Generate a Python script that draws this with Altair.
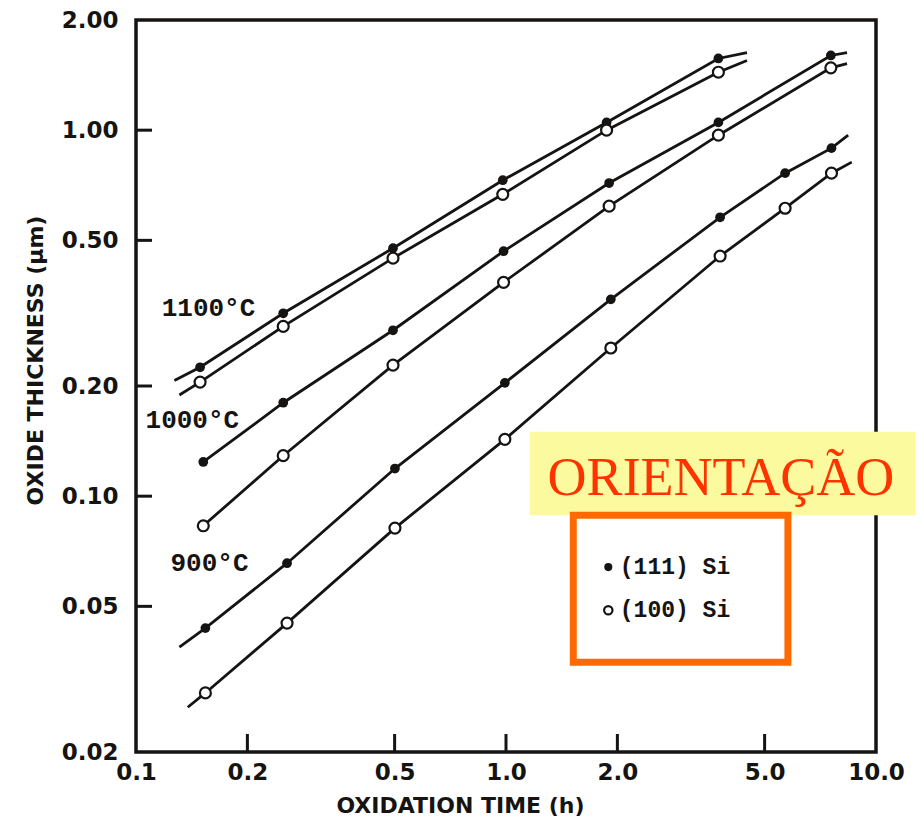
import altair as alt
import pandas as pd

# ---- data (time in h, thickness in um) ----
t_1100 = [0.149, 0.250, 0.495, 0.98, 1.87, 3.75]
v_1100_111 = [0.225, 0.316, 0.476, 0.730, 1.05, 1.57]
v_1100_100 = [0.205, 0.291, 0.447, 0.668, 1.00, 1.44]

t_1000 = [0.152, 0.250, 0.495, 0.985, 1.90, 3.75, 7.55]
v_1000_111 = [0.124, 0.180, 0.284, 0.467, 0.717, 1.05, 1.60]
v_1000_100 = [0.083, 0.129, 0.228, 0.384, 0.620, 0.969, 1.48]

t_900 = [0.154, 0.256, 0.501, 0.993, 1.92, 3.79, 5.68, 7.58]
v_900_111 = [0.0436, 0.0656, 0.119, 0.204, 0.345, 0.578, 0.763, 0.893]
v_900_100 = [0.0290, 0.0450, 0.0818, 0.143, 0.254, 0.453, 0.612, 0.763]

# fitted-line end points (start, end) beyond the measured points
line_ext = {
    "1100_111": ((0.127, 0.207), (4.48, 1.63)),
    "1100_100": ((0.131, 0.189), (4.48, 1.55)),
    "1000_111": (None, (8.35, 1.63)),
    "1000_100": (None, (8.35, 1.52)),
    "900_111": ((0.131, 0.0387), (8.41, 0.969)),
    "900_100": ((0.138, 0.0265), (8.60, 0.818)),
}

temp_labels = ["1100°C", "1000°C", "900°C"]
temp_label_t = [0.157, 0.142, 0.158]
temp_label_v = [0.326, 0.161, 0.0656]

x_tick_values = [0.1, 0.2, 0.5, 1.0, 2.0, 5.0, 10.0]
y_tick_values = [0.02, 0.05, 0.10, 0.20, 0.50, 1.00, 2.00]
x_inner_ticks = [0.2, 0.5, 1.0, 2.0, 5.0]
y_inner_ticks = [0.05, 0.10, 0.20, 0.50, 1.00]

legend_labels = ["(111) Si", "(100) Si"]
legend_orient = ["111", "100"]

# ---- tables ----
series = {
    "1100_111": (t_1100, v_1100_111),
    "1100_100": (t_1100, v_1100_100),
    "1000_111": (t_1000, v_1000_111),
    "1000_100": (t_1000, v_1000_100),
    "900_111": (t_900, v_900_111),
    "900_100": (t_900, v_900_100),
}
pts_rows, line_rows = [], []
for name, (ts, vs) in series.items():
    orient = name.split("_")[1]
    for t, v in zip(ts, vs):
        pts_rows.append({"t": t, "v": v, "series": name, "orient": orient})
    start, end = line_ext[name]
    verts = ([start] if start else []) + list(zip(ts, vs)) + [end]
    for t, v in verts:
        line_rows.append({"t": t, "v": v, "series": name})
pts = pd.DataFrame(pts_rows)
lines_df = pd.DataFrame(line_rows)

W, H = 740, 732
xs = alt.Scale(type="log", domain=[0.1, 10], nice=False)
ys = alt.Scale(type="log", domain=[0.02, 2.0], nice=False)

xaxis = alt.Axis(values=x_tick_values, format=".1f", ticks=False, domain=False, grid=False,
                 labelPadding=9, labelFlush=False, labelOverlap=False,
                 title="OXIDATION TIME (h)", titleX=324, titleY=53,
                 titleBaseline="middle", titleAlign="center")
yaxis = alt.Axis(values=y_tick_values, format=".2f", ticks=False, domain=False, grid=False,
                 labelPadding=18, labelFlush=False, labelOverlap=False,
                 title="OXIDE THICKNESS (μm)", titleX=-101, titleY=340, titleAngle=270,
                 titleBaseline="middle", titleAlign="center")

def X(field="t"):
    return alt.X(f"{field}:Q", scale=xs, axis=xaxis)

def Y(field="v"):
    return alt.Y(f"{field}:Q", scale=ys, axis=yaxis)

ink = "#161412"

lines = alt.Chart(lines_df).mark_line(color=ink, strokeWidth=2.8).encode(
    x=X(), y=Y(), detail="series:N", order="t:Q")

filled = alt.Chart(pts).transform_filter(alt.datum.orient == "111").mark_point(
    shape="circle", filled=True, color=ink, size=95, opacity=1).encode(x=X(), y=Y())

openp = alt.Chart(pts).transform_filter(alt.datum.orient == "100").mark_point(
    shape="circle", filled=True, fill="white", stroke=ink, strokeWidth=2.2, size=120,
    opacity=1).encode(x=X(), y=Y())

xt = alt.Chart(pd.DataFrame({"t": x_inner_ticks})).mark_rule(color=ink, strokeWidth=3).encode(
    x=X(), y=alt.value(H), y2=alt.value(H - 18))
yt = alt.Chart(pd.DataFrame({"v": y_inner_ticks})).mark_rule(color=ink, strokeWidth=3).encode(
    y=Y(), x=alt.value(0), x2=alt.value(16))

tlab = alt.Chart(pd.DataFrame({"t": temp_label_t, "v": temp_label_v, "txt": temp_labels})).mark_text(
    font="Liberation Mono", fontWeight="bold", fontSize=26, color=ink,
    align="center", baseline="middle").encode(x=X(), y=Y(), text="txt:N")

# annotation overlay (placed in data coordinates)
ann_yellow = pd.DataFrame({"t": [1.16], "t2": [12.8], "v": [0.150], "v2": [0.0887]})
ann_orange = pd.DataFrame({"t": [1.52], "t2": [5.78], "v": [0.0887], "v2": [0.0352]})

yellow = alt.Chart(ann_yellow).mark_rect(color="#FCFA9E").encode(
    x=X(), x2="t2:Q", y=Y(), y2="v2:Q")
orient_txt = alt.Chart(pd.DataFrame({"t": [3.81], "v": [0.1006], "txt": ["ORIENTAÇÃO"]})).mark_text(
    font="Liberation Serif", fontSize=54, color="#FF3300", align="center", baseline="alphabetic"
).encode(x=X(), y=Y(), text="txt:N")
orange = alt.Chart(ann_orange).mark_rect(fill="white", stroke="#FF6A00", strokeWidth=7).encode(
    x=X(), x2="t2:Q", y=Y(), y2="v2:Q")

leg_df = pd.DataFrame({"t": [1.89, 1.89], "v": [0.064, 0.0488], "orient": legend_orient})
leg_fill = alt.Chart(leg_df).transform_filter(alt.datum.orient == "111").mark_point(
    shape="circle", filled=True, color=ink, size=65, opacity=1).encode(x=X(), y=Y())
leg_open = alt.Chart(leg_df).transform_filter(alt.datum.orient == "100").mark_point(
    shape="circle", filled=True, fill="white", stroke=ink, strokeWidth=2.2, size=70,
    opacity=1).encode(x=X(), y=Y())
leg_txt = alt.Chart(pd.DataFrame({"t": [2.03, 2.03], "v": [0.064, 0.0488], "txt": legend_labels})).mark_text(
    font="Liberation Mono", fontWeight="bold", fontSize=23, color=ink, align="left", baseline="middle"
).encode(x=X(), y=Y(), text="txt:N")

chart = alt.layer(
    lines, filled, openp, xt, yt, tlab, yellow, orient_txt, orange, leg_fill, leg_open, leg_txt
).properties(
    width=W, height=H,
    background="white",
    autosize=alt.AutoSizeParams(type="none"),
    padding={"left": 136, "top": 20, "right": 921 - 136 - W, "bottom": 825 - 20 - H},
).configure_view(
    stroke=ink, strokeWidth=3.5
).configure_axis(
    labelFont="DejaVu Sans", labelFontWeight="bold", labelFontSize=23, labelColor=ink,
    titleFont="DejaVu Sans", titleFontWeight="bold", titleFontSize=22, titleColor=ink,
)

chart.save("out.html", embed_options={"renderer": "svg", "actions": False})
